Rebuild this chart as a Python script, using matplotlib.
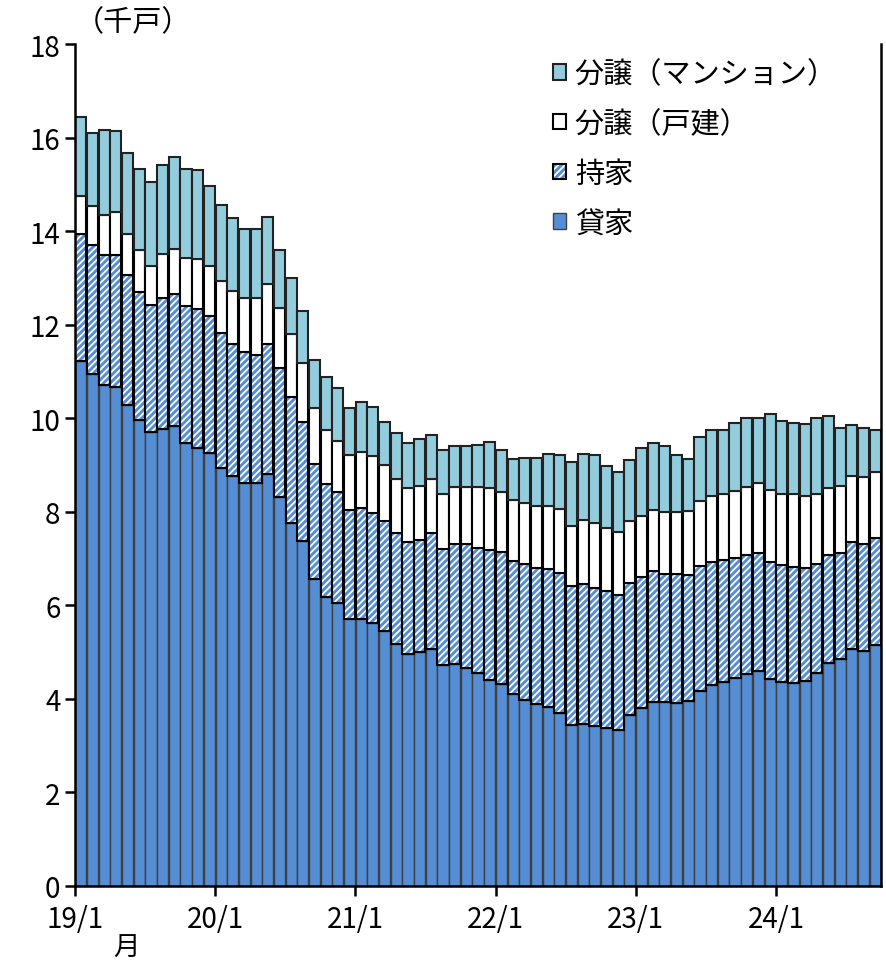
import numpy as np
import matplotlib
matplotlib.use("Agg")
import matplotlib.pyplot as plt
from matplotlib.legend_handler import HandlerTuple

plt.rcParams['font.family'] = ['Noto Sans CJK JP', 'DejaVu Sans']
plt.rcParams['hatch.linewidth'] = 2.1

# 2019/1 - 2024/9, monthly (thousand units)
tick_labels = ["19/1", "20/1", "21/1", "22/1", "23/1", "24/1"]

rental = [11.23, 10.94, 10.70, 10.67, 10.29, 9.96, 9.70, 9.77, 9.84, 9.48, 9.37, 9.26,
          8.94, 8.76, 8.61, 8.61, 8.80, 8.31, 7.77, 7.37, 6.56, 6.18, 6.04, 5.71,
          5.71, 5.62, 5.46, 5.17, 4.96, 5.00, 5.07, 4.72, 4.74, 4.67, 4.56, 4.41,
          4.31, 4.10, 3.98, 3.88, 3.82, 3.70, 3.45, 3.46, 3.41, 3.37, 3.33, 3.66,
          3.80, 3.94, 3.93, 3.92, 3.95, 4.17, 4.30, 4.35, 4.45, 4.53, 4.60, 4.42,
          4.36, 4.34, 4.38, 4.55, 4.77, 4.85, 5.07, 5.02, 5.16]

owner = [2.71, 2.76, 2.80, 2.83, 2.77, 2.74, 2.71, 2.81, 2.82, 2.92, 2.96, 2.92,
         2.89, 2.83, 2.80, 2.74, 2.79, 2.76, 2.69, 2.55, 2.47, 2.42, 2.38, 2.33,
         2.36, 2.35, 2.34, 2.37, 2.39, 2.40, 2.47, 2.49, 2.57, 2.64, 2.67, 2.78,
         2.82, 2.85, 2.90, 2.92, 2.96, 2.99, 2.96, 2.99, 2.97, 2.93, 2.89, 2.82,
         2.80, 2.79, 2.73, 2.74, 2.69, 2.68, 2.63, 2.61, 2.57, 2.54, 2.52, 2.50,
         2.50, 2.47, 2.42, 2.33, 2.30, 2.27, 2.28, 2.30, 2.27]

detached = [0.82, 0.83, 0.85, 0.90, 0.87, 0.89, 0.85, 0.93, 0.96, 1.02, 1.07, 1.07,
            1.10, 1.12, 1.17, 1.23, 1.27, 1.28, 1.35, 1.27, 1.19, 1.15, 1.10, 1.17,
            1.20, 1.23, 1.21, 1.15, 1.15, 1.16, 1.16, 1.16, 1.21, 1.23, 1.29, 1.31,
            1.30, 1.30, 1.31, 1.33, 1.34, 1.37, 1.29, 1.37, 1.37, 1.35, 1.34, 1.32,
            1.30, 1.31, 1.33, 1.33, 1.37, 1.38, 1.41, 1.43, 1.43, 1.45, 1.49, 1.55,
            1.53, 1.56, 1.53, 1.50, 1.44, 1.43, 1.42, 1.42, 1.43]

condo = [1.69, 1.57, 1.81, 1.73, 1.75, 1.73, 1.80, 1.91, 1.96, 1.91, 1.91, 1.71,
         1.63, 1.58, 1.46, 1.46, 1.45, 1.25, 1.18, 1.10, 1.02, 1.14, 1.13, 1.00,
         1.07, 1.05, 0.90, 1.00, 0.98, 1.00, 0.94, 0.94, 0.89, 0.87, 0.91, 1.00,
         0.90, 0.87, 0.95, 1.02, 1.12, 1.16, 1.36, 1.41, 1.47, 1.32, 1.30, 1.31,
         1.47, 1.44, 1.41, 1.23, 1.12, 1.37, 1.41, 1.36, 1.45, 1.48, 1.40, 1.62,
         1.54, 1.53, 1.55, 1.62, 1.54, 1.24, 1.09, 1.05, 0.89]

labels = ["貸家", "持家", "分譲（戸建）", "分譲（マンション）"]
c_rental = "#558ED5"
c_condo = "#93CDDD"

n = len(rental)
x = np.arange(n) + 0.5
w = 0.95
b1 = np.array(rental)
b2 = b1 + np.array(owner)
b3 = b2 + np.array(detached)

fig = plt.figure(figsize=(8.86, 9.62), dpi=100)
ax = fig.add_axes([0.0847, 0.078, 0.9097, 0.8752])

h_rent = ax.bar(x, rental, w, color=c_rental, edgecolor="#404040", linewidth=1.0)
h_own_fill = ax.bar(x, owner, w, bottom=b1, color="white", edgecolor=c_rental,
                    hatch="/////", linewidth=0)
h_own_edge = ax.bar(x, owner, w, bottom=b1, color="none", edgecolor="black", linewidth=1.5)
h_det = ax.bar(x, detached, w, bottom=b2, color="white", edgecolor="black", linewidth=1.5)
h_con = ax.bar(x, condo, w, bottom=b3, color=c_condo, edgecolor="#222222", linewidth=1.5)

ax.set_xlim(0, n)
ax.set_ylim(0, 18)
ax.set_yticks(range(0, 19, 2))
ax.set_xticks(np.arange(0, n, 12))
ax.set_xticklabels(tick_labels)

ax.spines["top"].set_visible(False)
for s in ["left", "bottom", "right"]:
    ax.spines[s].set_linewidth(1.8)
ax.tick_params(axis="both", direction="out", length=7, width=1.8, labelsize=20)
ax.tick_params(axis="x", pad=6)

ax.text(0.0, 1.008, "（千戸）", transform=ax.transAxes, fontsize=21,
        ha="left", va="bottom")
fig.text(0.143, 0.0, "月", fontsize=19, ha="center", va="bottom")

handles = [h_con[0], h_det[0], (h_own_fill[0], h_own_edge[0]), h_rent[0]]
leg_labels = [labels[3], labels[2], labels[1], labels[0]]
ax.legend(handles, leg_labels, loc="upper left", bbox_to_anchor=(0.593, 0.982),
          frameon=False, fontsize=21, handlelength=0.45, handleheight=0.45,
          handletextpad=0.3, labelspacing=0.68, borderpad=0, borderaxespad=0,
          handler_map={tuple: HandlerTuple(ndivide=1, pad=0)})

plt.savefig("out.png", dpi=100)
